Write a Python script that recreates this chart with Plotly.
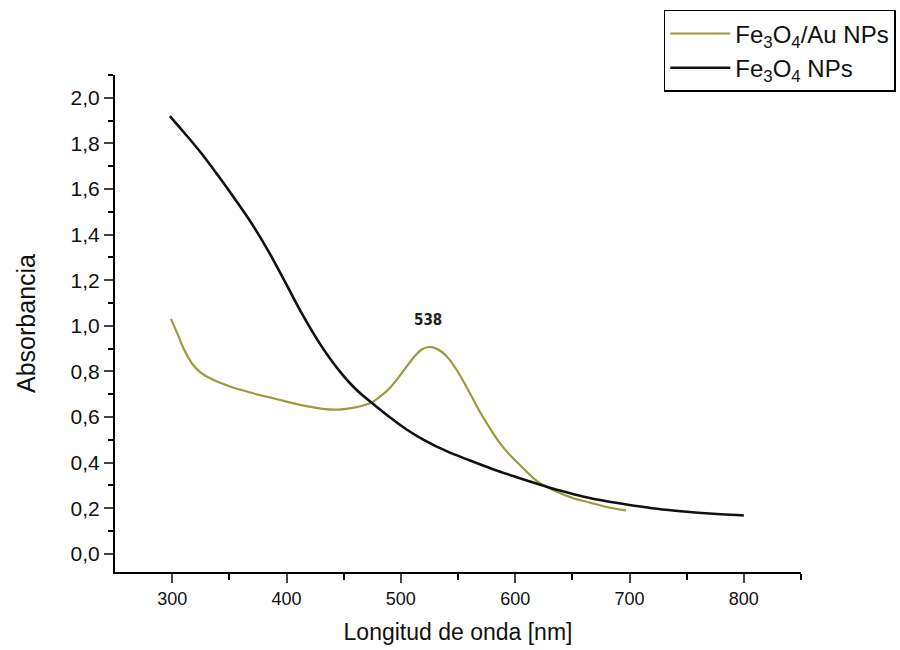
import plotly.graph_objects as go

# Fe3O4 NPs (black)
wl_fe = [298, 310, 325, 340, 355, 370, 385, 400, 415, 430, 445, 460, 475, 490,
         505, 520, 540, 560, 580, 600, 620, 640, 660, 680, 700, 720, 740, 760, 780, 800]
abs_fe = [1.92, 1.85, 1.76, 1.66, 1.555, 1.445, 1.32, 1.18, 1.04, 0.915, 0.81, 0.725, 0.66, 0.60,
          0.545, 0.50, 0.45, 0.41, 0.372, 0.338, 0.306, 0.276, 0.25, 0.23, 0.214, 0.20, 0.189,
          0.18, 0.173, 0.168]

# Fe3O4/Au NPs (olive)
wl_au = [299, 305, 310, 318, 325, 335, 350, 370, 390, 410, 430, 445, 458, 467, 475, 482,
         490, 499, 511, 518, 524, 530, 536, 542, 549, 556, 563, 570, 578, 586, 595, 605,
         620, 635, 650, 665, 680, 697]
abs_au = [1.03, 0.96, 0.90, 0.83, 0.795, 0.765, 0.735, 0.705, 0.68, 0.655, 0.637, 0.632, 0.64,
          0.65, 0.665, 0.69, 0.725, 0.78, 0.86, 0.895, 0.907, 0.902, 0.885, 0.855, 0.805, 0.745,
          0.68, 0.615, 0.55, 0.49, 0.435, 0.385, 0.315, 0.275, 0.245, 0.225, 0.205, 0.19]

peak_label = "538"
peak_pos = (524, 0.975)

x_ticks = [300, 400, 500, 600, 700, 800]
y_ticks = [0.0, 0.2, 0.4, 0.6, 0.8, 1.0, 1.2, 1.4, 1.6, 1.8, 2.0]
y_tick_text = [f"{v:.1f}".replace(".", ",") for v in y_ticks]

FONT = "Liberation Sans, Arial, sans-serif"

fig = go.Figure()
fig.add_trace(go.Scatter(x=wl_au, y=abs_au, mode="lines", name="Fe<sub>3</sub>O<sub>4</sub>/Au NPs",
                         line=dict(color="#9c9a3c", width=2.2, shape="spline")))
fig.add_trace(go.Scatter(x=wl_fe, y=abs_fe, mode="lines", name="Fe<sub>3</sub>O<sub>4</sub> NPs",
                         line=dict(color="#111111", width=2.6, shape="spline")))

fig.add_annotation(x=peak_pos[0], y=peak_pos[1], text="<b>" + peak_label + "</b>", showarrow=False,
                   font=dict(family="Liberation Sans Narrow, DejaVu Sans Condensed, sans-serif",
                             size=15, color="#222"), xanchor="center", yanchor="bottom")

fig.update_layout(
    width=900, height=650,
    margin=dict(l=115, r=99, t=75, b=78, autoexpand=False),
    paper_bgcolor="white", plot_bgcolor="white",
    font=dict(family=FONT, color="#111"),
    showlegend=True,
    legend=dict(x=0.80, y=1.131, xanchor="left", yanchor="top",
                bordercolor="black", borderwidth=1.5, bgcolor="white", itemwidth=60,
                font=dict(size=24, family=FONT), tracegroupgap=0),
    xaxis=dict(range=[250, 850], tickvals=x_ticks, ticks="outside", ticklen=9, tickwidth=2,
               showline=True, linecolor="black", linewidth=2, showgrid=False, zeroline=False,
               automargin=False,
               tickfont=dict(size=18, family=FONT), title=dict(text="Longitud de onda [nm]", font=dict(size=23), standoff=16),
               minor=dict(tickvals=[350, 450, 550, 650, 750, 850], ticks="outside", ticklen=6,
                          tickwidth=2, tickcolor="black")),
    yaxis=dict(range=[-0.08, 2.1], tickvals=y_ticks, ticktext=y_tick_text, ticks="outside",
               ticklen=9, tickwidth=2, showline=True, linecolor="black", linewidth=2,
               showgrid=False, zeroline=False, automargin=False, tickfont=dict(size=21, family=FONT),
               title=dict(text="Absorbancia", font=dict(size=25), standoff=28),
               minor=dict(tickvals=[0.1, 0.3, 0.5, 0.7, 0.9, 1.1, 1.3, 1.5, 1.7, 1.9, 2.1],
                          ticks="outside", ticklen=5, tickwidth=2, tickcolor="black")),
)

fig.write_html("out.html")
